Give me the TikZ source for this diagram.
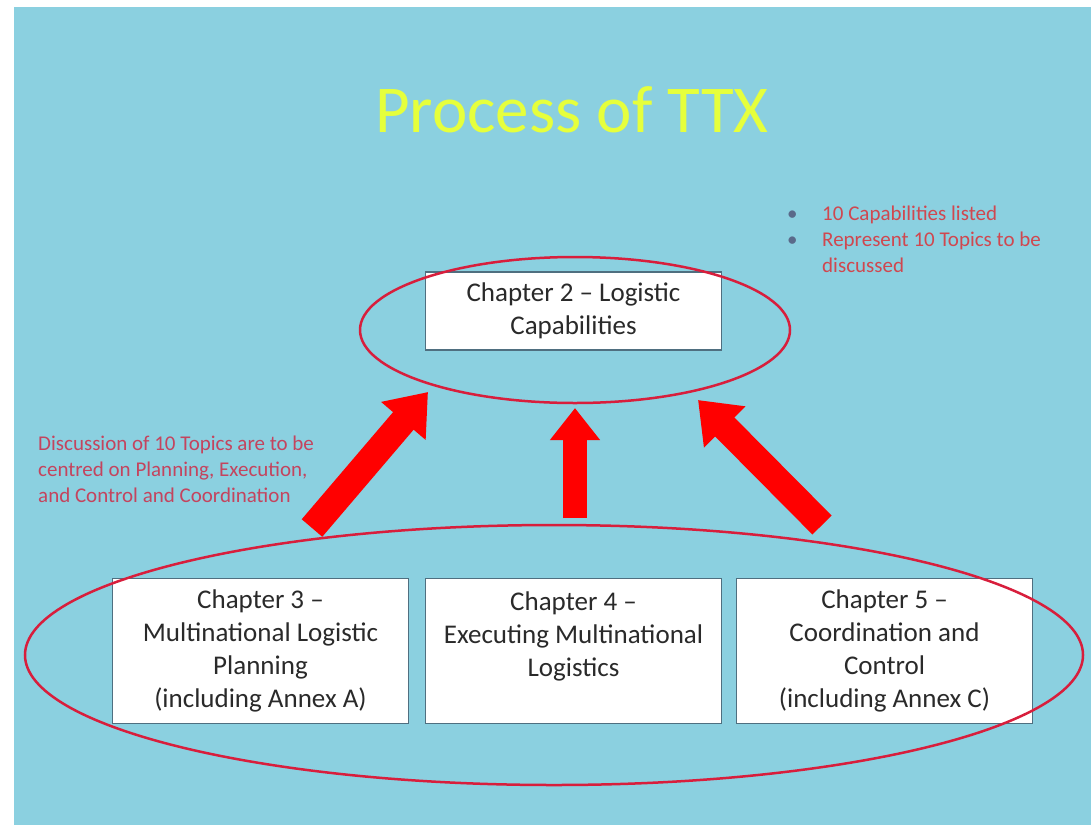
\documentclass[tikz,border=0pt]{standalone}
\usepackage{fontspec}
\setmainfont{Carlito}
\usetikzlibrary{shapes.geometric,arrows.meta}
\definecolor{bg}{HTML}{8BD0E0}
\definecolor{titley}{HTML}{E6FF3C}
\definecolor{ellred}{HTML}{D81E3C}
\definecolor{arrred}{HTML}{FF0000}
\definecolor{boxline}{HTML}{4F6F80}
\definecolor{boxtext}{HTML}{2A2A2A}
\definecolor{lefttxt}{HTML}{C4445E}
\definecolor{righttxt}{HTML}{D0474F}
\definecolor{bulletc}{HTML}{5A6A8A}
\tikzset{
  chapbox/.style={draw=boxline, fill=white, line width=1.2pt, inner sep=0pt,
    minimum width=296pt, align=center, text=boxtext,
    font=\fontsize{27}{33}\selectfont},
  ring/.style={ellipse, draw=ellred, line width=2.5pt, inner sep=0pt},
  bigarrow/.style={draw=arrred, -{Triangle[width=56pt,length=38pt]}},
  note/.style={inner sep=0pt, font=\fontsize{21}{26}\selectfont}
}
\begin{document}
\begin{tikzpicture}[x=1pt,y=-1pt]
\useasboundingbox (0,0) rectangle (1091,825);
\fill[white] (0,0) rectangle (1091,825);
\fill[bg] (14,7) rectangle (1091,825);

\node[anchor=base, text=titley, inner sep=0pt, font=\fontsize{67}{80}\selectfont] (title) at (572,132) {Process of TTX};

\node[chapbox, minimum height=78pt] (ch2) at (573.5,311) {Chapter 2 -- Logistic\\Capabilities};
\node[chapbox, minimum height=145pt] (ch3) at (260.5,651) {Chapter 3 --\\Multinational Logistic\\Planning\\(including Annex A)};
\node[chapbox, minimum height=145pt] (ch4) at (573.5,651) {Chapter 4 --\\Executing Multinational\\Logistics\\\mbox{}};
\node[chapbox, minimum height=145pt] (ch5) at (884.5,651) {Chapter 5 --\\Coordination and\\Control\\(including Annex C)};

\node[ring, minimum width=430pt, minimum height=146pt] (topring) at (575,330) {};
\node[ring, minimum width=1058pt, minimum height=260pt] (botring) at (554,655) {};

\coordinate (lt) at (312,528);
\coordinate (lh) at (428,392);
\coordinate (mt) at (575,518);
\coordinate (mh) at (575,408);
\coordinate (rt) at (822,525);
\coordinate (rh) at (698,400);
\draw[bigarrow, line width=27pt] (lt) -- (lh);
\draw[bigarrow, line width=24pt, -{Triangle[width=48pt,length=32pt]}] (mt) -- (mh);
\draw[bigarrow, line width=27pt] (rt) -- (rh);

\node[note, anchor=base west, align=left, text=lefttxt] (disc) at (38,502)
  {Discussion of 10 Topics are to be\\centred on Planning, Execution,\\and Control and Coordination};

\node[note, anchor=base west, text=bulletc] (b1) at (787,220) {•};
\node[note, anchor=base west, text=righttxt] (t1) at (822,220) {10 Capabilities listed};
\node[note, anchor=base west, text=bulletc] (b2) at (787,246) {•};
\node[note, anchor=base west, align=left, text=righttxt] (t2) at (822,272) {Represent 10 Topics to be\\discussed};
\end{tikzpicture}
\end{document}
